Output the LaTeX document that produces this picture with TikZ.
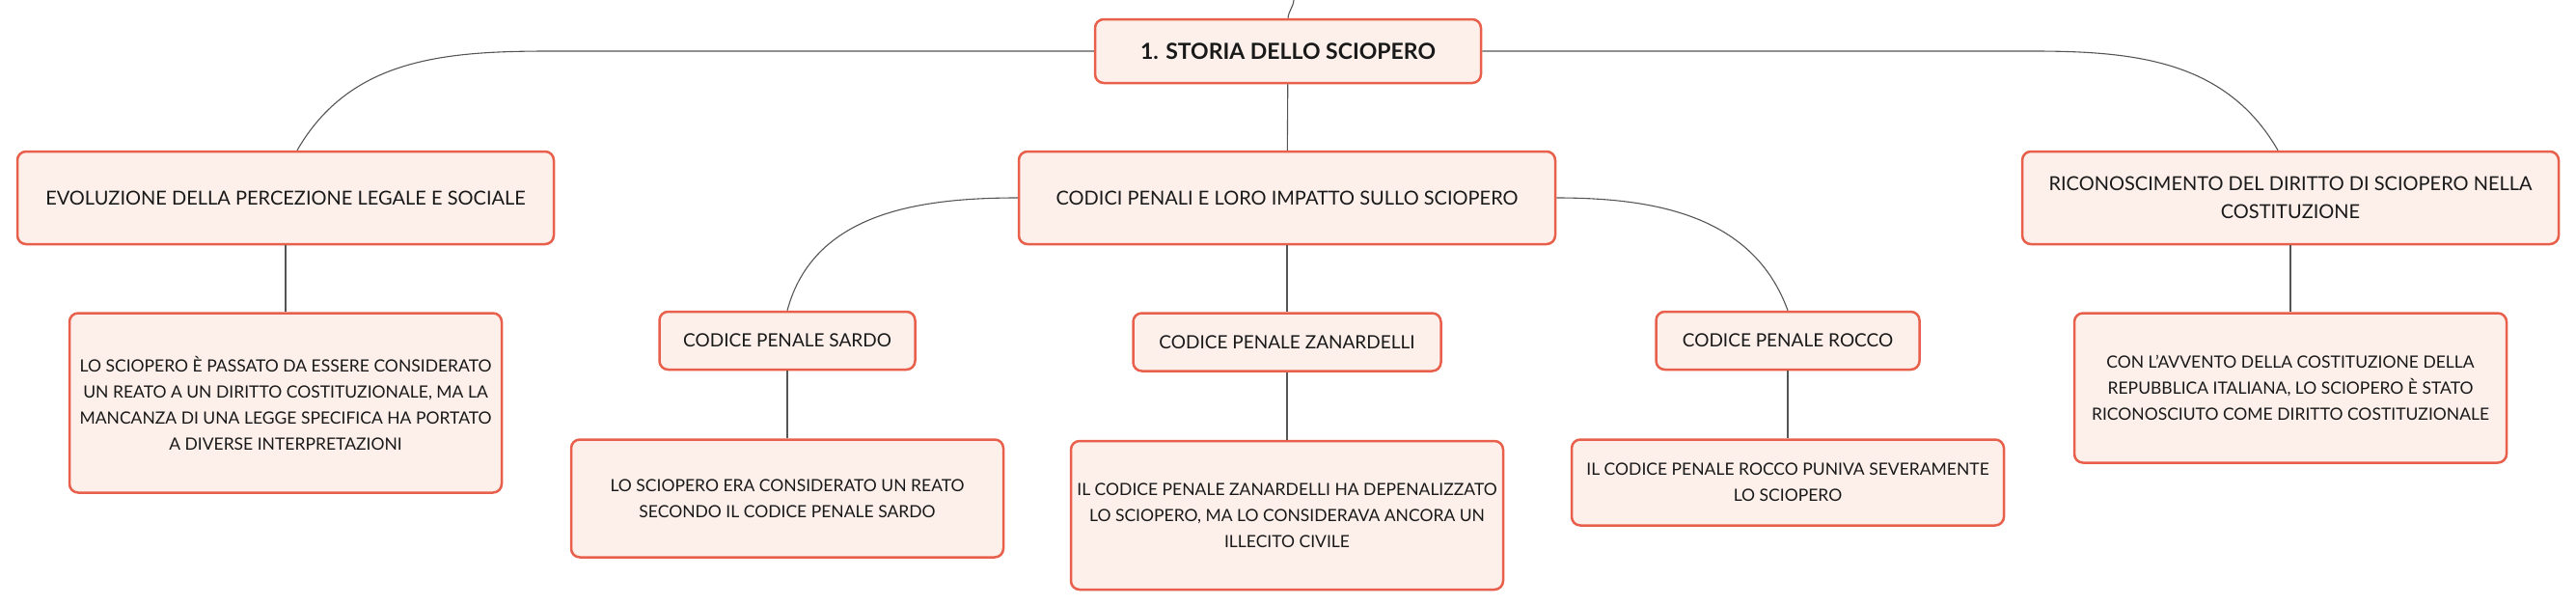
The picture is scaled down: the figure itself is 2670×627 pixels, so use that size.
\documentclass[tikz,border=0pt]{standalone}
\usepackage{fontspec}
\setmainfont{Lato}
\usetikzlibrary{arrows.meta,positioning}
\definecolor{boxline}{HTML}{E8604C}
\definecolor{boxfill}{HTML}{FDF0EB}
\definecolor{linkgray}{HTML}{555555}

\begin{document}
\begin{tikzpicture}[x=1pt,y=1pt,
    every node/.style={rectangle,rounded corners=9pt,draw=boxline,fill=boxfill,line width=2.5pt,align=center,text=black!90},
    topic/.style={minimum width=556pt,minimum height=96pt,font=\fontsize{20}{29}\selectfont},
    code/.style={minimum height=60pt,font=\fontsize{19}{27}\selectfont},
    note/.style={minimum width=448pt,font=\fontsize{17.5}{27}\selectfont},
    link/.style={draw=linkgray,line width=1.1pt},
    node distance=69pt]
    \useasboundingbox (0,0) rectangle (2670,-627);

    \node[minimum width=400pt,minimum height=66pt,font=\fontsize{23}{27}\selectfont\bfseries] (root) at (1335,-53) {1. STORIA DELLO SCIOPERO};
    \coordinate (up) at (1341,0);

    \node[topic] (evol) at (296,-205) {EVOLUZIONE DELLA PERCEZIONE LEGALE E SOCIALE};
    \node[topic] (codici) at (1334,-205) {CODICI PENALI E LORO IMPATTO SULLO SCIOPERO};
    \node[topic] (ricon) at (2374,-205) {RICONOSCIMENTO DEL DIRITTO DI SCIOPERO NELLA\\COSTITUZIONE};

    \node[note,minimum height=186pt,below=of evol] (evolnote) {LO SCIOPERO È PASSATO DA ESSERE CONSIDERATO\\UN REATO A UN DIRITTO COSTITUZIONALE, MA LA\\MANCANZA DI UNA LEGGE SPECIFICA HA PORTATO\\A DIVERSE INTERPRETAZIONI};

    \node[code,minimum width=265pt] (sardo) at (816,-353) {CODICE PENALE SARDO};
    \node[code,minimum width=319pt,below=of codici] (zanar) {CODICE PENALE ZANARDELLI};
    \node[code,minimum width=273pt] (rocco) at (1853,-353) {CODICE PENALE ROCCO};

    \node[note,minimum height=122pt,below=70pt of sardo] (sardonote) {LO SCIOPERO ERA CONSIDERATO UN REATO\\SECONDO IL CODICE PENALE SARDO};
    \node[note,minimum height=154pt,below=70pt of zanar] (zanarnote) {IL CODICE PENALE ZANARDELLI HA DEPENALIZZATO\\LO SCIOPERO, MA LO CONSIDERAVA ANCORA UN\\ILLECITO CIVILE};
    \node[note,minimum height=89pt,below=70pt of rocco] (rocconote) {IL CODICE PENALE ROCCO PUNIVA SEVERAMENTE\\LO SCIOPERO};
    \node[note,minimum height=155pt,below=of ricon] (riconnote) {CON L'AVVENTO DELLA COSTITUZIONE DELLA\\REPUBBLICA ITALIANA, LO SCIOPERO È STATO\\RICONOSCIUTO COME DIRITTO COSTITUZIONALE};

    % connectors
    \draw[link] (up) to[out=-95,in=85] (root.north);
    \draw[link] (root.west) -- ([xshift=274pt]evol.north |- root.west) to[out=180,in=60] ([xshift=12pt]evol.north);
    \draw[link] (root.east) -- ([xshift=-267pt]ricon.north |- root.east) to[out=0,in=120] ([xshift=-13pt]ricon.north);
    \draw[link] (codici.west) to[out=180,in=75] (sardo.north);
    \draw[link] (codici.east) to[out=0,in=110] (rocco.north);
    \foreach \a/\b in {root/codici,evol/evolnote,codici/zanar,ricon/riconnote,sardo/sardonote,zanar/zanarnote,rocco/rocconote}
        \draw[link] (\a) -- (\b);
\end{tikzpicture}
\end{document}
